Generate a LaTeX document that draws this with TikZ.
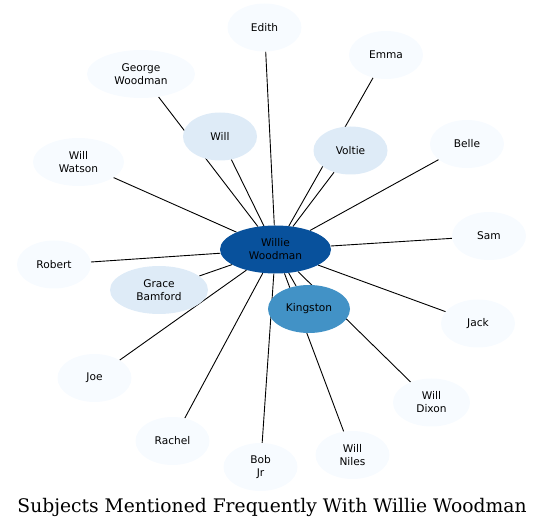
\documentclass[tikz,border=0pt]{standalone}
\usepackage{fontspec}
\newfontfamily\labelfont{DejaVu Sans}
\newfontfamily\titlefont{DejaVu Serif}
\usetikzlibrary{shapes.geometric,backgrounds}
\definecolor{cOuter}{HTML}{F7FBFF}
\definecolor{cMid}{HTML}{DEEBF7}
\definecolor{cKing}{HTML}{4292C6}
\definecolor{cCenter}{HTML}{08519C}
\tikzset{
  person/.style={ellipse, inner sep=0pt, align=center, fill=cOuter, text=black,
    font=\labelfont\fontsize{10.6}{13}\selectfont, minimum width=#1, minimum height=48pt},
  person/.default=74pt,
  link/.style={draw=black, line width=0.9pt}
}
\begin{document}
\begin{tikzpicture}[x=1pt,y=1pt]
\useasboundingbox (0,0) rectangle (544,528);
\node[person] (edith) at (264.5,500.5) {Edith};
\node[person] (emma) at (386,473) {Emma};
\node[person=108pt] (george) at (141,454) {George\\Woodman};
\node[person, fill=cMid] (will) at (220,391.5) {Will};
\node[person, fill=cMid] (voltie) at (350.5,377.5) {Voltie};
\node[person] (belle) at (467,384) {Belle};
\node[person=91pt] (watson) at (78.5,366) {Will\\Watson};
\node[person] (sam) at (489,292) {Sam};
\node[person=111pt, fill=cCenter] (ww) at (275.5,278.5) {Willie\\Woodman};
\node[person] (robert) at (54,263.5) {Robert};
\node[person=98pt, fill=cMid] (grace) at (159,238) {Grace\\Bamford};
\node[person=82pt, fill=cKing] (kingston) at (309,219) {Kingston};
\node[person] (jack) at (478,204.5) {Jack};
\node[person] (joe) at (94.5,150) {Joe};
\node[person=77pt] (dixon) at (431.5,125.5) {Will\\Dixon};
\node[person] (rachel) at (172.5,87) {Rachel};
\node[person] (bobjr) at (260.5,61) {Bob\\Jr};
\node[person] (niles) at (352.5,73) {Will\\Niles};
\node[font=\titlefont] (title) at (272,21) {\resizebox{509pt}{!}{Subjects Mentioned Frequently With Willie Woodman}};
\begin{scope}[on background layer]
\foreach \n in {edith,emma,george,will,voltie,belle,watson,sam,robert,grace,kingston,jack,joe,dixon,rachel,bobjr,niles}
  \draw[link] (ww) -- (\n);
\end{scope}
\end{tikzpicture}
\end{document}
